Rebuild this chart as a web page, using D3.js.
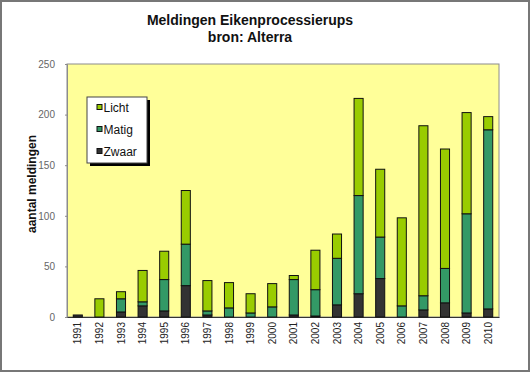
<!DOCTYPE html>
<html>
<head>
<meta charset="utf-8">
<script src="https://d3js.org/d3.v7.min.js"></script>
<style>
  body { margin: 0; background: #fff; }
  svg { display: block; font-family: Arial, "Liberation Sans", sans-serif; }
</style>
</head>
<body>
<div id="chart"></div>
<script>
const years = ["1991","1992","1993","1994","1995","1996","1997","1998","1999","2000",
               "2001","2002","2003","2004","2005","2006","2007","2008","2009","2010"];
const zwaar = [2, 0, 5, 11, 6, 31, 2, 0, 0, 0, 2, 1, 12, 23, 38, 0, 7, 14, 4, 8];
const matig = [0, 0, 13, 4, 31, 41, 4, 9, 4, 10, 35, 26, 46, 97, 41, 11, 14, 34, 98, 177];
const licht = [0, 18, 7, 31, 28, 53, 30, 25, 19, 23, 4, 39, 24, 96, 67, 87, 168, 118, 100, 13];
const yTicks = [0, 50, 100, 150, 200, 250];

const series = ["Zwaar", "Matig", "Licht"];
const colors = {Zwaar: "#333333", Matig: "#339966", Licht: "#99cc00"};

const W = 530, H = 372;
const margin = {top: 64, right: 31, bottom: 55, left: 67},
    width = W - margin.left - margin.right,
    height = H - margin.top - margin.bottom;

const table = years.map((y, i) => ({year: y, Zwaar: zwaar[i], Matig: matig[i], Licht: licht[i]}));
const stacked = d3.stack().keys(series)(table);

const svg = d3.select("#chart").append("svg")
    .attr("width", W).attr("height", H);

// outer frame
svg.append("rect")
    .attr("x", 1).attr("y", 1).attr("width", W - 2).attr("height", H - 2)
    .attr("fill", "#fff").attr("stroke", "#777").attr("stroke-width", 2);

// titles
svg.append("text").attr("x", 250).attr("y", 25)
    .attr("text-anchor", "middle").attr("font-size", 14).attr("font-weight", "bold")
    .attr("fill", "#111").text("Meldingen Eikenprocessierups");
svg.append("text").attr("x", 250).attr("y", 42)
    .attr("text-anchor", "middle").attr("font-size", 14).attr("font-weight", "bold")
    .attr("fill", "#111").text("bron: Alterra");

const g = svg.append("g").attr("transform", `translate(${margin.left},${margin.top})`);

// plot area
g.append("rect").attr("width", width).attr("height", height)
    .attr("fill", "#ffff99").attr("stroke", "#8c8c8c").attr("stroke-width", 1);

const x = d3.scaleBand().domain(years).range([0, width]).paddingInner(0.58).paddingOuter(0.29);
const y = d3.scaleLinear().domain([0, 250]).range([height, 0]);

// y axis
const yAxis = g.append("g")
    .call(d3.axisLeft(y).tickValues(yTicks).tickSize(2).tickPadding(10));
yAxis.select(".domain").attr("stroke", "#8c8c8c");
yAxis.selectAll(".tick line").attr("stroke", "#8c8c8c");
yAxis.selectAll("text").attr("font-size", 10).attr("fill", "#666").attr("font-family", "Arial, sans-serif");

// x axis
const xAxis = g.append("g").attr("transform", `translate(0,${height})`)
    .call(d3.axisBottom(x).tickSize(0).tickPadding(0));
xAxis.select(".domain").attr("stroke", "#333");
xAxis.selectAll("text")
    .attr("font-size", 10).attr("fill", "#222").attr("font-family", "Arial, sans-serif")
    .attr("transform", "rotate(-90)")
    .attr("text-anchor", "end")
    .attr("x", -5).attr("y", 0).attr("dy", "0.35em");

// bars
g.selectAll("g.layer")
    .data(stacked)
    .join("g").attr("class", "layer")
    .attr("fill", d => colors[d.key])
    .selectAll("rect")
    .data(d => d.filter(p => p[1] - p[0] > 0))
    .join("rect")
    .attr("x", d => x(d.data.year))
    .attr("y", d => y(d[1]))
    .attr("width", x.bandwidth())
    .attr("height", d => y(d[0]) - y(d[1]))
    .attr("stroke", "#111").attr("stroke-width", 1);

// y axis title
svg.append("text")
    .attr("transform", "translate(36,184) rotate(-90)")
    .attr("text-anchor", "middle").attr("font-size", 12).attr("font-weight", "bold")
    .attr("fill", "#111").text("aantal meldingen");

// legend
const lg = svg.append("g").attr("transform", "translate(87,97)");
lg.append("rect").attr("x", 3).attr("y", 3).attr("width", 60).attr("height", 66).attr("fill", "#000");
lg.append("rect").attr("width", 60).attr("height", 66).attr("fill", "#fff").attr("stroke", "#444");
const legendItems = ["Licht", "Matig", "Zwaar"];
legendItems.forEach((k, i) => {
    const row = lg.append("g").attr("transform", `translate(10,${11 + i * 22})`);
    row.append("rect").attr("x", 0).attr("y", -3.5).attr("width", 5).attr("height", 5)
        .attr("fill", colors[k]).attr("stroke", "#111");
    row.append("text").attr("x", 6.5).attr("y", 0).attr("dy", "0.35em")
        .attr("font-size", 12).attr("fill", "#111").text(k);
});
</script>
</body>
</html>
